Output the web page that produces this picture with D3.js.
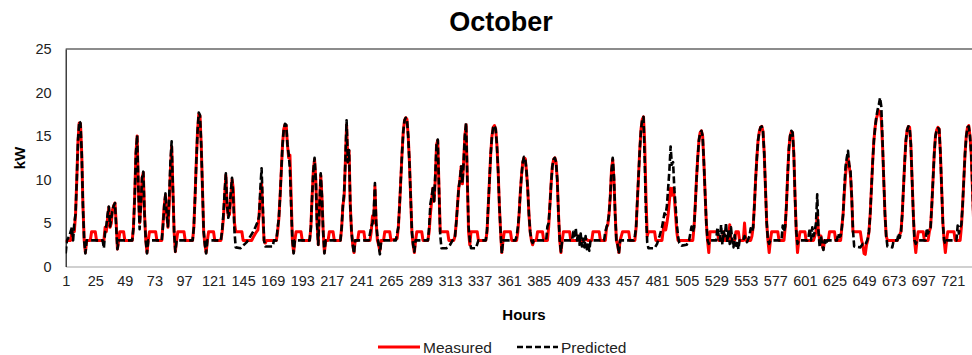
<!DOCTYPE html>
<html>
<head>
<meta charset="utf-8">
<script src="https://cdn.jsdelivr.net/npm/d3@7"></script>
<style>
  body { margin: 0; background: #fff; }
  svg text { font-family: "Liberation Sans", Arial, sans-serif; }
</style>
</head>
<body>
<svg id="chart" width="972" height="355"></svg>
<script>
// hourly kW readings for October, stored as [hour, kW] vertices
const measured = [
  [1,2.8],[2,3],[5,3],[6,4],[8,4],[9,6],[10,10],[11,14.5],[12,16.5],[13,16.4],[14,13],[15,7],[16,3],[17,1.6],[18,3],[21,3],[22,4],[25,4],[26,3],
  [32,3],[33,4.5],[34,4],[35,5.5],[36,6.8],[37,4.5],[38,5],[39,6.5],[40,7],[41,7.3],[42,5],[43,2],[44,3],[45,4],[48,4],[49,3],
  [55,3],[56,4.5],[57,8],[58,13],[59,15],[60,9],[61,5],[62,7],[63,10.2],[64,10.8],[65,6],[66,3],[67,1.6],[68,3],[69,4],[74,4],[75,3],
  [79,3],[80,5],[81,7],[82,8.2],[83,6],[84,4.5],[85,7],[86,11],[87,13.8],[88,9],[89,4],[90,1.7],[91,3],[92,4],[97,4],[98,3],
  [104,3],[105,4.5],[106,8],[107,12],[108,15.5],[109,17.5],[110,17.3],[111,14],[112,9],[113,4],[114,2.5],[115,1.6],[116,3],[117,4],[121,4],[122,3],
  [127,3],[128,4],[129,5.5],[130,8],[131,10.5],[132,7],[133,5.8],[134,6],[135,8],[136,10],[137,9],[138,5],[139,4],[144,4],[145,3],
  [152,3],[153,3.3],[155,3.8],[157,4.2],[158,6],[159,8],[160,9.5],[161,6],[162,3],[163,2.7],[164,3],[172,3],
  [173,4],[174,5.5],[175,8],[176,11],[177,14],[178,15.8],[179,16.3],[180,16.2],[181,14],[182,12.5],[183,12.8],[184,8],[185,3],[186,1.6],[187,3],[188,4],[192,4],[193,3],
  [199,3],[200,4.5],[201,8],[202,11],[203,12.3],[204,10],[205,5],[206,2.5],[207,7],[208,10.5],[209,8],[210,4],[211,1.6],[212,3],[214,3],[215,4],[218,4],[219,3],
  [224,3],[225,4.5],[226,7],[227,8],[228,12],[229,16.3],[230,12],[231,13.3],[232,7],[233,4],[234,2.5],[235,1.6],[236,3],[238,3],[239,4],[243,4],[244,3],
  [248,3],[249,4],[250,5.8],[251,5],[252,9.2],[253,5],[254,3],[255,2.5],[256,1.8],[257,3],[259,3],[260,4],[264,4],[265,3],
  [270,3.2],[271,4.5],[272,7],[273,10],[274,13],[275,15.5],[276,16.8],[277,17.1],[278,16.9],[279,15],[280,12],[281,8],[282,4],[283,2.5],[284,1.6],[285,3],[286,4],[290,4],[291,3],
  [295,3],[296,4],[297,6],[298,7.5],[299,9],[300,7.5],[301,10],[302,14],[303,14.5],[304,9],[305,4],[306,4],[311,4],[312,3],
  [316,3],[317,3.5],[318,5],[319,7],[320,9],[321,10],[322,11.5],[323,9.5],[324,12],[325,15],[326,16.3],[327,10],[328,4],[329,2.5],[330,4],[335,4],[336,3],
  [342,3],[343,4],[344,7],[345,10],[346,13],[347,15],[348,16],[349,16.2],[350,15.8],[351,14],[352,11],[353,7],[354,4],[355,1.6],[356,3],[357,4],[362,4],[363,3],
  [367,3],[368,4],[369,6],[370,8.5],[371,10.5],[372,12],[373,12.5],[374,12.4],[375,11],[376,9],[377,6],[378,4],[379,3],[380,2.5],[381,3],[383,3],[384,4],[388,4],[389,3],
  [392,3],[393,4.5],[394,7],[395,9.5],[396,11.5],[397,12.3],[398,12.5],[399,12],[400,10],[401,6],[402,3],[403,1.6],[404,3],[405,4],[410,4],[411,3],
  [416,3],[417,3.5],[419,3],[422,3],[423,3.2],[425,3],[428,3],[429,4],[434,4],[435,3],
  [439,3],[440,4.5],[441,4.8],[442,6],[443,8],[444,11],[445,12.3],[446,10],[447,6],[448,3],[449,2.5],[450,1.6],[451,3],[453,4],[458,4],[459,3],
  [463,3],[464,4.5],[465,7.5],[466,10.5],[467,13.5],[468,15.8],[469,16.9],[470,17.2],[471,14],[472,8],[473,3.5],[474,4],[479,4],[480,3],
  [485,3],[486,4.2],[487,5],[488,4.2],[489,5],[490,6],[491,7.5],[492,9],[493,8.2],[494,9],[495,8],[496,6],[497,4],[498,3],[505,3],
  [510,3],[511,4.5],[512,7],[513,10],[514,12.5],[515,14.5],[516,15.4],[517,15.6],[518,15],[519,12],[520,8.4],[521,5],[522,3],[523,1.6],[524,4],[530,4],[531,3],
  [534,3],[535,4],[536,3],[539,3],[540,4.8],[541,3],[544,3],[545,4],[547,4],[548,3],[551,3],[552,5],[553,3],
  [557,3],[558,3.5],[559,4.5],[560,7],[561,10],[562,12.5],[563,14.5],[564,15.5],[565,16],[566,16.1],[567,15.5],[568,13],[569,9],[570,5],[571,3],[572,1.6],[573,3],[574,4],[579,4],[580,3],
  [584,3],[585,4.5],[586,7],[587,10.5],[588,13.5],[589,15],[590,15.5],[591,15.4],[592,13],[593,8],[594,4],[595,1.6],[596,3],[597,4],[601,4],[602,3],
  [608,3],[609,3.5],[610,4],[611,6],[612,4],[613,3],[614,3.5],[615,2.5],[616,2],[617,3],[620,3],[621,4],[625,4],[626,3],
  [630,3],[631,4.5],[632,6],[633,8.5],[634,10.5],[635,12],[636,12.5],[637,11.5],[638,10.5],[639,8],[640,4],[646,4],[647,3],[648,2.5],[649,1.5],[650,1.4],[651,2.5],[652,3],
  [653,4],[654,6],[655,9],[656,12],[657,14.5],[658,16],[659,17],[660,17.5],[661,17.9],[662,17.8],[663,17],[664,14],[665,10],[666,6],[667,3.5],[668,3],[676,3],
  [679,4],[680,6],[681,9],[682,12],[683,14.5],[684,15.7],[685,16.1],[686,16],[687,14],[688,10],[689,6],[690,3],[691,1.6],[692,3],[693,4],[697,4],[698,3],
  [701,3],[702,4],[703,4.5],[704,7],[705,10],[706,13],[707,15],[708,15.7],[709,16],[710,15.8],[711,13],[712,9],[713,5],[714,3],[715,1.6],[716,3],[717,4],[722,4],[723,3],
  [727,3],[728,4.5],[729,7],[730,10],[731,13],[732,15],[733,16],[734,16.2],[735,15],[736,13],[737,9],[738,5],[739,3],[740,1.6],[741,3],[742,4],[744,4]
];

const predicted = [
  [1,1.5],[2,3],[4,3.5],[6,4.5],[7,3],[8,5],[9,6],[10,10],[11,14.5],[12,16.7],[13,16.5],[14,13],[15,7],[16,3],[17,1.5],[18,3],[31,3],
  [32,2.1],[33,4],[34,4.7],[35,6],[36,6.9],[37,4.6],[38,5.5],[39,6.5],[40,7],[41,7.3],[42,4.5],[43,2],[44,3],
  [55,3],[56,4.4],[57,8],[58,13],[59,15.1],[60,9],[61,4.3],[62,7],[63,10.2],[64,10.9],[65,6],[66,3],[67,1.5],[68,3],
  [79,3],[80,4.7],[81,7],[82,8.4],[83,6],[84,4.6],[85,8],[86,12],[87,14.4],[88,9],[89,4],[90,1.7],[91,3],
  [104,3],[105,4.5],[106,8],[107,12],[108,15.5],[109,17.7],[110,17.4],[111,14],[112,9],[113,4],[114,2.5],[115,1.5],[116,3],
  [127,3],[128,4.2],[129,6],[130,8.5],[131,10.7],[132,7],[133,5.6],[134,6.5],[135,8.5],[136,10.2],[137,8],[138,4],[139,2.2],
  [143,2.1],[145,2.4],[148,2.8],[151,3.5],[154,4.2],[157,5.2],[158,5.8],[159,9],[160,11.3],[161,7],[162,3],[163,2.3],[169,2.3],[170,3],[172,3],
  [173,4.4],[174,5.5],[175,8],[176,11],[177,14],[178,15.8],[179,16.4],[180,16.3],[181,14],[182,12.9],[183,11.2],[184,7],[185,3],[186,1.5],[187,3],
  [199,3],[200,4.5],[201,8],[202,11],[203,12.5],[204,10],[205,5],[206,2.5],[207,7],[208,10.7],[209,8],[210,4],[211,1.5],[212,3],
  [224,3],[225,4.5],[226,7],[227,8.5],[228,12],[229,16.8],[230,12],[231,13.4],[232,7],[233,4],[234,2.5],[235,1.5],[236,3],
  [247,3],[248,3.8],[249,4.5],[250,5],[251,6],[252,9.6],[253,5],[254,3.5],[255,2.5],[256,1.4],[257,2.8],[259,3],
  [269,3],[270,3.8],[271,4.5],[272,7],[273,10],[274,13],[275,15.5],[276,16.8],[277,17.1],[278,16.9],[279,15],[280,12],[281,8],[282,4],[283,2.5],[284,1.7],[285,3],
  [295,3],[296,4.5],[297,7.2],[298,8],[299,9],[300,7.5],[301,10.5],[302,14],[303,14.6],[304,9],[305,3.6],[306,2.1],[310,2.1],[313,2.5],[315,3],
  [317,3.5],[318,5],[319,7],[320,9],[321,10],[322,11.5],[323,9.6],[324,12],[325,15],[326,16.5],[327,10],[328,4.6],[329,3],[330,2.1],[334,2.1],[336,3],
  [342,3],[343,4.2],[344,7],[345,10],[346,13],[347,15],[348,16],[349,16.2],[350,15.8],[351,14],[352,11],[353,7],[354,4],[355,1.5],[356,3],
  [366,3],[367,3.5],[368,4.5],[369,6],[370,8.5],[371,10.5],[372,12],[373,12.6],[374,12.4],[375,11],[376,9],[377,6],[378,4],[379,3],[380,2.7],[381,3],
  [391,3],[392,4.6],[393,5],[394,7],[395,9.5],[396,11.5],[397,12.3],[398,12.5],[399,12],[400,10],[401,6],[402,3],[403,1.7],[404,3],
  [412,3],[413,4],[414,3.5],[415,4.4],[416,3],[417,3.8],[418,2.5],[419,3.8],[420,2.3],[421,3.2],[422,2.2],[423,3.5],[424,2],[425,2.5],[426,1.8],[427,3],
  [438,3],[439,4],[440,4.5],[441,5],[442,6],[443,8],[444,11],[445,12.5],[446,10.4],[447,6],[448,3],[449,2.5],[450,1.5],[451,3],
  [462,3],[463,3.5],[464,4.5],[465,7.6],[466,10.5],[467,13.5],[468,15.8],[469,16.9],[470,17.2],[471,12],[472,6.1],[473,2.8],[474,2.1],[479,2.1],
  [481,2.6],[483,3.5],[485,4.5],[487,6.1],[488,6],[489,7],[490,9],[491,11],[492,13.8],[493,11.7],[494,12],[495,9],[496,7],[497,5],[498,3.5],[499,2.7],[501,2.4],[505,2.5],
  [507,3],[509,4.6],[510,4],[511,4.5],[512,7],[513,10],[514,12.5],[515,14.5],[516,15.4],[517,15.6],[518,15],[519,12],[520,8.4],[521,5],[522,3],[523,2.6],[524,3],
  [529,3],[530,4.5],[531,3.5],[532,3],[533,4.8],[534,2.5],[535,4],[536,3.5],[537,5],[538,2.8],[539,4.2],[540,2.6],[541,4.5],[542,3],[543,2.2],[544,3.6],[545,2.4],[546,3],[547,2],[548,3],[551,3],[552,3.5],[554,2.8],[556,3.5],
  [557,4.4],[558,4],[559,4.5],[560,7],[561,10],[562,12.5],[563,14.5],[564,15.5],[565,16],[566,16.1],[567,15.5],[568,13],[569,9],[570,5],[571,3],[572,2.6],[573,3],
  [582,3],[583,4.7],[584,4],[585,4.6],[586,7],[587,10.5],[588,13.5],[589,15],[590,15.6],[591,15.4],[592,13],[593,8],[594,4],[595,2.6],[596,3],
  [603,3],[604,3.5],[605,4.4],[606,3],[607,4.5],[608,3.5],[609,4],[610,5],[611,8.3],[612,4],[613,2.2],[614,3.5],[615,2.5],[616,1.9],[617,3],[618,2.5],[619,3],
  [627,3],[628,3.8],[629,3.4],[630,3.5],[631,4.5],[632,6],[633,9],[634,11.5],[635,12.5],[636,13.3],[637,11.6],[638,11],[639,8],[640,4.2],[641,2.3],[646,2.2],[648,2.6],[650,2.5],[651,2.8],[652,3.2],
  [653,4],[654,6],[655,9],[656,12],[657,14.5],[658,16],[659,17.2],[660,18],[661,18.6],[662,19.4],[663,18.4],[664,14.5],[665,10],[666,6],[667,3.5],[668,2.3],[672,2.2],[673,3],[676,3],
  [677,3.8],[678,3.3],[679,4],[680,6],[681,9],[682,12],[683,14.5],[684,15.7],[685,16.1],[686,16],[687,14],[688,10],[689,6],[690,3],[691,2.6],[692,3],
  [699,3],[700,4.4],[701,3.8],[702,4.3],[703,4.5],[704,7],[705,10],[706,13],[707,15],[708,15.7],[709,15.9],[710,15.8],[711,13],[712,9],[713,5],[714,3],[715,2.6],[716,3],
  [724,3],[725,4.7],[726,3.8],[727,4.5],[728,4.8],[729,7],[730,10],[731,13],[732,15],[733,16],[734,16.1],[735,15],[736,13],[737,9],[738,5],[739,3],[740,2.6],[741,3],[744,3]
];

const xTicks = d3.range(1, 745, 24);   // 1, 25, ... 721
const yTicks = [0, 5, 10, 15, 20, 25];

const svg = d3.select('#chart');
const plotLeft = 65.7, plotTop = 49, plotBottom = 266.5;
const plotRight = plotLeft + 743 * 1.232;   // plot runs past the picture edge

const x = d3.scaleLinear().domain([1, 744]).range([plotLeft, plotRight]);
const y = d3.scaleLinear().domain([0, 25]).range([plotBottom, plotTop]);

svg.append('defs').append('clipPath').attr('id', 'plotClip')
  .append('rect').attr('x', plotLeft).attr('y', plotTop - 2)
  .attr('width', plotRight - plotLeft).attr('height', plotBottom - plotTop + 4);

// frame: dark top edge, light bottom edge
svg.append('line').attr('x1', plotLeft).attr('x2', 972).attr('y1', plotTop).attr('y2', plotTop)
  .style('stroke', '#666').style('stroke-width', 1.5);

// x axis
const xAxis = svg.append('g').attr('transform', `translate(0,${plotBottom})`)
  .call(d3.axisBottom(x).tickValues(xTicks).tickSize(0).tickPadding(9).tickFormat(d3.format('d')));
xAxis.select('.domain').style('stroke', '#d0d0d0').style('stroke-width', 2);
xAxis.selectAll('text').style('font-size', '14.5px').style('fill', '#222');

// y axis
const yAxis = svg.append('g').attr('transform', `translate(${plotLeft},0)`)
  .call(d3.axisLeft(y).tickValues(yTicks).tickSize(0).tickPadding(14));
yAxis.select('.domain').style('stroke', '#111').style('stroke-width', 1.2);
yAxis.selectAll('text').style('font-size', '14.5px').style('fill', '#222');

const line = d3.line().x(d => x(d[0])).y(d => y(d[1]));

const plot = svg.append('g').attr('clip-path', 'url(#plotClip)');
plot.append('path').datum(measured).attr('d', line)
  .style('fill', 'none').style('stroke', '#ff0000').style('stroke-width', 3).style('stroke-linejoin', 'round');
plot.append('path').datum(predicted).attr('d', line)
  .style('fill', 'none').style('stroke', '#000').style('stroke-width', 2.6)
  .style('stroke-dasharray', '7,3').style('stroke-linejoin', 'round');

// titles
svg.append('text').attr('x', 501).attr('y', 31).attr('text-anchor', 'middle')
  .style('font-size', '27px').style('font-weight', 'bold').text('October');
svg.append('text').attr('transform', 'translate(25,158) rotate(-90)').attr('text-anchor', 'middle')
  .style('font-size', '15px').style('font-weight', 'bold').text('kW');
svg.append('text').attr('x', 524).attr('y', 320).attr('text-anchor', 'middle')
  .style('font-size', '15px').style('font-weight', 'bold').text('Hours');

// legend
const legend = svg.append('g');
legend.append('line').attr('x1', 378).attr('x2', 420).attr('y1', 347).attr('y2', 347)
  .style('stroke', '#ff0000').style('stroke-width', 2.8);
legend.append('text').attr('x', 423).attr('y', 353).style('font-size', '15.5px').style('fill', '#222').text('Measured');
legend.append('line').attr('x1', 517).attr('x2', 558).attr('y1', 347).attr('y2', 347)
  .style('stroke', '#000').style('stroke-width', 2.4).style('stroke-dasharray', '6,3');
legend.append('text').attr('x', 561).attr('y', 353).style('font-size', '15.5px').style('fill', '#222').text('Predicted');
</script>
</body>
</html>
